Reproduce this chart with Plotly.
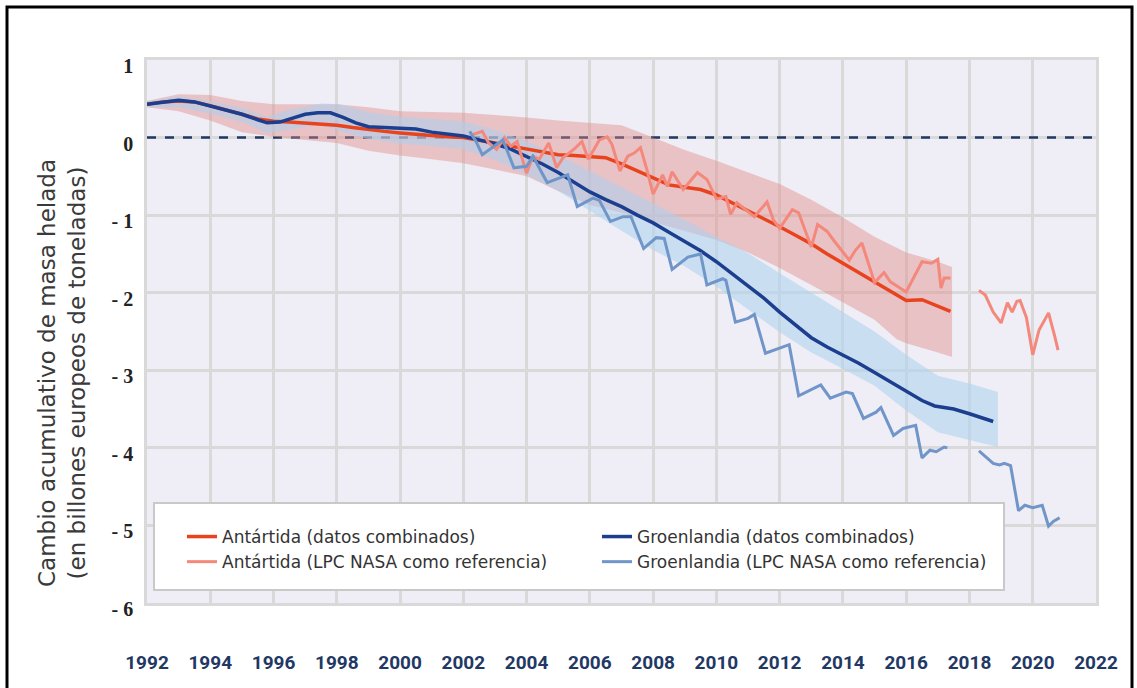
import plotly.graph_objects as go

# ---------------- data ----------------
ant_band_years = [1992.0, 1993.0, 1994.0, 1995.0, 1996.0, 1997.0, 1998.0, 1999.0, 2000.0, 2001.0,
                  2002.0, 2003.0, 2004.0, 2005.0, 2006.0, 2007.0, 2008.0, 2009.0, 2010.0, 2011.0,
                  2012.0, 2013.0, 2014.0, 2015.0, 2015.7, 2016.0, 2017.0, 2017.45]
ant_band_upper = [0.47, 0.56, 0.55, 0.47, 0.43, 0.43, 0.43, 0.39, 0.34, 0.33,
                  0.32, 0.29, 0.26, 0.22, 0.19, 0.16, 0.0, -0.16, -0.30, -0.45,
                  -0.60, -0.80, -1.03, -1.28, -1.42, -1.48, -1.60, -1.67]
ant_band_lower = [0.39, 0.34, 0.22, 0.07, 0.01, -0.03, -0.07, -0.17, -0.23, -0.28,
                  -0.33, -0.41, -0.50, -0.69, -0.87, -0.97, -1.09, -1.20, -1.32, -1.48,
                  -1.68, -1.90, -2.12, -2.35, -2.60, -2.65, -2.77, -2.83]

grl_band_years = [1992.0, 1993.0, 1994.0, 1995.0, 1995.8, 1996.5, 1997.5, 1998.1, 1999.0, 2000.0,
                  2001.0, 2002.0, 2003.0, 2004.0, 2005.0, 2006.0, 2007.0, 2008.0, 2009.0, 2010.0,
                  2011.0, 2012.0, 2013.0, 2014.0, 2015.0, 2016.0, 2017.0, 2018.0, 2018.9]
grl_band_upper = [0.47, 0.53, 0.47, 0.38, 0.27, 0.36, 0.44, 0.43, 0.33, 0.27,
                  0.24, 0.21, 0.10, -0.05, -0.22, -0.43, -0.63, -0.85, -1.06, -1.28,
                  -1.49, -1.75, -2.00, -2.24, -2.50, -2.80, -3.07, -3.17, -3.28]
grl_band_lower = [0.39, 0.39, 0.31, 0.20, 0.06, 0.10, 0.17, 0.08, -0.02, -0.08,
                  -0.11, -0.15, -0.29, -0.48, -0.69, -0.95, -1.20, -1.45, -1.66, -1.92,
                  -2.21, -2.51, -2.77, -2.98, -3.20, -3.52, -3.80, -3.90, -3.99]

ant_comb_years = [1992.0, 1992.5, 1993.0, 1993.5, 1994.0, 1994.5, 1995.0, 1995.5, 1996.0, 1996.5,
                  1997.0, 1997.5, 1998.0, 1998.5, 1999.0, 1999.5, 2000.0, 2000.5, 2001.0, 2001.5,
                  2002.0, 2002.5, 2003.0, 2003.5, 2004.0, 2004.5, 2005.0, 2005.5, 2006.0, 2006.5,
                  2007.0, 2007.5, 2008.0, 2008.5, 2009.0, 2009.5, 2010.0, 2010.5, 2011.0, 2011.5,
                  2012.0, 2012.5, 2013.0, 2013.5, 2014.0, 2014.5, 2015.0, 2015.5, 2016.0, 2016.5,
                  2017.0, 2017.4]
ant_comb_vals = [0.43, 0.46, 0.47, 0.46, 0.41, 0.36, 0.30, 0.24, 0.21, 0.20,
                 0.19, 0.17, 0.16, 0.13, 0.10, 0.08, 0.06, 0.04, 0.03, 0.01,
                 0.0, -0.03, -0.07, -0.11, -0.15, -0.19, -0.22, -0.23, -0.24, -0.26,
                 -0.34, -0.43, -0.52, -0.61, -0.64, -0.67, -0.74, -0.84, -0.95, -1.05,
                 -1.15, -1.26, -1.37, -1.50, -1.62, -1.73, -1.85, -1.98, -2.10, -2.09,
                 -2.17, -2.24]

grl_comb_years = [1992.0, 1992.5, 1993.0, 1993.5, 1994.0, 1994.5, 1995.0, 1995.5, 1995.8, 1996.2,
                  1996.6, 1997.0, 1997.4, 1997.8, 1998.2, 1998.6, 1999.0, 1999.5, 2000.0, 2000.5,
                  2001.0, 2001.5, 2002.0, 2002.5, 2003.0, 2003.5, 2004.0, 2004.5, 2005.0, 2005.5,
                  2006.0, 2006.5, 2007.0, 2007.5, 2008.0, 2008.5, 2009.0, 2009.5, 2010.0, 2010.5,
                  2011.0, 2011.5, 2012.0, 2012.5, 2013.0, 2013.5, 2014.0, 2014.5, 2015.0, 2015.5,
                  2016.0, 2016.5, 2016.9, 2017.5, 2018.0, 2018.75]
grl_comb_vals = [0.43, 0.46, 0.48, 0.46, 0.41, 0.36, 0.30, 0.23, 0.19, 0.20,
                 0.25, 0.30, 0.32, 0.32, 0.26, 0.19, 0.14, 0.13, 0.13, 0.11,
                 0.07, 0.04, 0.02, -0.03, -0.08, -0.15, -0.24, -0.34, -0.45, -0.57,
                 -0.70, -0.80, -0.89, -1.00, -1.10, -1.22, -1.34, -1.46, -1.60, -1.76,
                 -1.91, -2.07, -2.25, -2.42, -2.58, -2.70, -2.80, -2.91, -3.03, -3.15,
                 -3.27, -3.39, -3.46, -3.50, -3.56, -3.66]

ant_lpc_years = [2002.3, 2002.6, 2002.8, 2003.05, 2003.3, 2003.5, 2003.7, 2004.0, 2004.2, 2004.4,
                 2004.7, 2004.95, 2005.15, 2005.5, 2005.75, 2005.95, 2006.3, 2006.55, 2006.7, 2006.95,
                 2007.2, 2007.4, 2007.6, 2007.8, 2008.0, 2008.3, 2008.45, 2008.6, 2008.95, 2009.4,
                 2009.7, 2010.0, 2010.3, 2010.45, 2010.65, 2011.2, 2011.6, 2011.8, 2012.0, 2012.4,
                 2012.6, 2013.0, 2013.2, 2013.5, 2013.7, 2014.2, 2014.4, 2014.6, 2015.0, 2015.3,
                 2015.5, 2016.0, 2016.5, 2016.8, 2017.0, 2017.1, 2017.2, 2017.4, 2017.85,
                 2018.3, 2018.5, 2018.75, 2019.0, 2019.2, 2019.35, 2019.5, 2019.6, 2019.8, 2020.0,
                 2020.2, 2020.5, 2020.7, 2020.8]
ant_lpc_vals = [0.04, 0.08, -0.07, -0.15, 0.0, -0.11, -0.05, -0.46, -0.24, -0.28,
                -0.07, -0.39, -0.26, -0.15, -0.05, -0.28, -0.03, 0.01, -0.09, -0.43,
                -0.24, -0.20, -0.13, -0.41, -0.73, -0.48, -0.63, -0.44, -0.67, -0.45,
                -0.54, -0.79, -0.76, -0.99, -0.84, -1.02, -0.83, -1.06, -1.17, -0.93,
                -0.97, -1.41, -1.12, -1.21, -1.32, -1.58, -1.45, -1.36, -1.87, -1.74,
                -1.86, -1.99, -1.60, -1.62, -1.57, -1.94, -1.81, -1.81, None,
                -1.97, -2.03, -2.25, -2.39, -2.13, -2.25, -2.11, -2.10, -2.32, -2.80,
                -2.48, -2.26, -2.57, -2.74]

grl_lpc_years = [2002.2, 2002.4, 2002.6, 2002.9, 2003.25, 2003.6, 2004.0, 2004.2, 2004.65, 2005.05,
                 2005.3, 2005.6, 2006.1, 2006.3, 2006.65, 2007.05, 2007.3, 2007.7, 2008.1, 2008.35,
                 2008.6, 2009.1, 2009.5, 2009.7, 2010.2, 2010.3, 2010.6, 2011.0, 2011.2, 2011.55,
                 2012.1, 2012.3, 2012.6, 2013.05, 2013.3, 2013.6, 2014.1, 2014.3, 2014.65, 2015.05,
                 2015.2, 2015.6, 2015.9, 2016.3, 2016.5, 2016.75, 2016.95, 2017.2, 2017.3, 2017.8,
                 2018.3, 2018.75, 2018.95, 2019.1, 2019.3, 2019.55, 2019.75, 2020.0, 2020.3, 2020.5,
                 2020.65, 2020.85]
grl_lpc_vals = [0.08, -0.05, -0.22, -0.13, -0.03, -0.39, -0.37, -0.24, -0.58, -0.52,
                -0.48, -0.89, -0.78, -0.81, -1.08, -1.02, -1.02, -1.43, -1.29, -1.30,
                -1.70, -1.54, -1.50, -1.90, -1.82, -1.84, -2.38, -2.33, -2.28, -2.78,
                -2.70, -2.67, -3.33, -3.24, -3.19, -3.36, -3.28, -3.30, -3.62, -3.54,
                -3.48, -3.84, -3.75, -3.71, -4.13, -4.03, -4.05, -3.99, -4.00, None,
                -4.04, -4.20, -4.22, -4.20, -4.23, -4.81, -4.74, -4.77, -4.74, -5.01,
                -4.95, -4.90]

x_ticks = list(range(1992, 2023, 2))
y_ticks = [1, 0, -1, -2, -3, -4, -5, -6]
y_ticktext = ["1", "0", "- 1", "- 2", "- 3", "- 4", "- 5", "- 6"]
reference_level = 0

names = ["Antártida (datos combinados)", "Groenlandia (datos combinados)",
         "Antártida (LPC NASA como referencia)", "Groenlandia (LPC NASA como referencia)"]

# ---------------- styles ----------------
C_ANT = "#e8431d"
C_ANT_LPC = "#f3887b"
C_GRL = "#1c3e8e"
C_GRL_LPC = "#7096c9"
BAND_ANT = "rgba(224,135,131,0.42)"
BAND_GRL = "rgba(171,209,238,0.55)"

fig = go.Figure()

# dashed zero reference line (beneath the uncertainty bands)
fig.add_trace(go.Scatter(x=[x_ticks[0], x_ticks[-1]], y=[reference_level, reference_level],
                         mode="lines", line=dict(color="#1f3864", width=2.5, dash="dash"),
                         showlegend=False, hoverinfo="skip"))

# bands
fig.add_trace(go.Scatter(x=ant_band_years + ant_band_years[::-1],
                         y=ant_band_upper + ant_band_lower[::-1],
                         fill="toself", fillcolor=BAND_ANT, line=dict(width=0),
                         mode="lines", showlegend=False, hoverinfo="skip"))
fig.add_trace(go.Scatter(x=grl_band_years + grl_band_years[::-1],
                         y=grl_band_upper + grl_band_lower[::-1],
                         fill="toself", fillcolor=BAND_GRL, line=dict(width=0),
                         mode="lines", showlegend=False, hoverinfo="skip"))

# lines
fig.add_trace(go.Scatter(x=ant_comb_years, y=ant_comb_vals, mode="lines", name=names[0],
                         line=dict(color=C_ANT, width=3.5)))
fig.add_trace(go.Scatter(x=grl_comb_years, y=grl_comb_vals, mode="lines", name=names[1],
                         line=dict(color=C_GRL, width=3.5)))
fig.add_trace(go.Scatter(x=ant_lpc_years, y=ant_lpc_vals, mode="lines", name=names[2],
                         line=dict(color=C_ANT_LPC, width=3), connectgaps=False))
fig.add_trace(go.Scatter(x=grl_lpc_years, y=grl_lpc_vals, mode="lines", name=names[3],
                         line=dict(color=C_GRL_LPC, width=3), connectgaps=False))

# plot area geometry (px): left 147, right 1096, top 60, bottom 603
L, R, T, B = 147, 41, 60, 85
PW, PH = 1137 - L - R, 688 - T - B

def px(xp):
    return (xp - L) / PW

def py(yp):
    return (688 - B - yp) / PH

shapes = [
    # legend box
    dict(type="rect", xref="paper", yref="paper", x0=px(154), x1=px(1004), y0=py(590), y1=py(503),
         fillcolor="white", line=dict(color="#c9c9c9", width=2), layer="above"),
    # outer frame
    dict(type="rect", xref="paper", yref="paper", x0=px(7), x1=px(1132), y0=py(700), y1=py(7),
         line=dict(color="black", width=3), fillcolor="rgba(0,0,0,0)", layer="above"),
]

fig.update_layout(
    width=1137, height=688,
    margin=dict(l=L, r=R, t=T, b=B),
    paper_bgcolor="white",
    plot_bgcolor="#efedf6",
    shapes=shapes,
    showlegend=True,
    legend=dict(orientation="h", x=px(182), y=py(519), xanchor="left", yanchor="top",
                bgcolor="rgba(0,0,0,0)", borderwidth=0, entrywidth=370,
                font=dict(family="DejaVu Sans", size=17, color="#333333"),
                traceorder="normal"),
    annotations=[dict(text="Cambio acumulativo de masa helada<br>(en billones europeos de toneladas)",
                      x=px(62), y=py(373), xref="paper", yref="paper", showarrow=False,
                      textangle=-90, xanchor="center", yanchor="middle",
                      font=dict(family="DejaVu Sans", size=23, color="#3a3a3a"))],
)

fig.update_xaxes(range=[1992, 2022], tickvals=x_ticks, ticktext=[str(v) for v in x_ticks],
                 showgrid=True, gridcolor="#d9d9d9", gridwidth=2.5, zeroline=False,
                 showline=True, linecolor="#d9d9d9", linewidth=2.5, mirror=True,
                 ticks="", ticklabelstandoff=40,
                 tickfont=dict(family="Roboto", size=19, color="#1f3864", weight="bold"))
fig.update_yaxes(range=[-6, 1], tickvals=y_ticks, ticktext=y_ticktext,
                 showgrid=True, gridcolor="#d9d9d9", gridwidth=2.5, zeroline=False,
                 showline=True, linecolor="#d9d9d9", linewidth=2.5, mirror=True,
                 ticks="", ticklabelstandoff=7, ticklabelshift=6,
                 tickfont=dict(family="Liberation Serif", size=20, color="#222222", weight="bold"))

fig.write_html("out.html", config={"displayModeBar": False},
               post_script="document.body.style.margin='0px';")
